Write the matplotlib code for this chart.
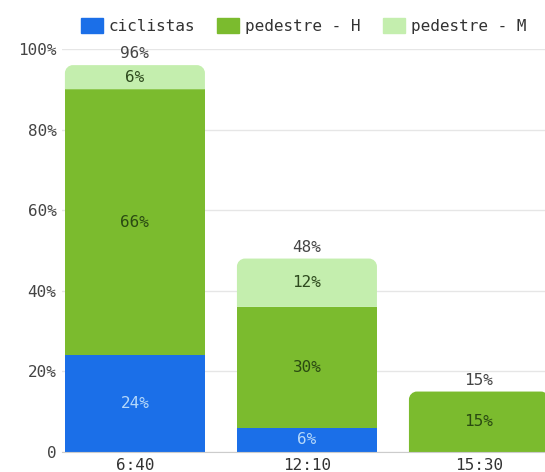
import matplotlib.pyplot as plt
import numpy as np
from matplotlib.patches import Patch, PathPatch
from matplotlib.path import Path

horas = ["6:40", "12:10", "15:30"]
ciclistas = [24, 6, 0]
pedestre_h = [66, 30, 15]
pedestre_m = [6, 12, 0]
totales = [96, 48, 15]

azul = "#1b6fe8"
verde = "#7bbb2e"
verde_claro = "#c4eeae"
fs = 11.5

plt.rcParams['font.family'] = ['DejaVu Sans Mono']

fig = plt.figure(figsize=(5.45, 4.72), dpi=100)
ax = fig.add_axes([62 / 545, 20 / 472, 1 - 62 / 545, 403 / 472])
ax.set_xlim(-0.424, 2.384)
ax.set_ylim(0, 100)

x = np.arange(len(horas))
ancho = 0.814
ciclistas = np.array(ciclistas)
pedestre_h = np.array(pedestre_h)
pedestre_m = np.array(pedestre_m)

b1 = ax.bar(x, ciclistas, ancho, color=azul, zorder=2)
b2 = ax.bar(x, pedestre_h, ancho, bottom=ciclistas, color=verde, zorder=2)
b3 = ax.bar(x, pedestre_m, ancho, bottom=ciclistas + pedestre_h, color=verde_claro, zorder=2)


def tapa_redondeada(x0, y0, w, h, rx, ry):
    # rectangulo con las dos esquinas de arriba redondeadas
    k = 0.5523
    verts = [
        (x0, y0), (x0, y0 + h - ry),
        (x0, y0 + h - ry + k * ry), (x0 + rx - k * rx, y0 + h), (x0 + rx, y0 + h),
        (x0 + w - rx, y0 + h),
        (x0 + w - rx + k * rx, y0 + h), (x0 + w, y0 + h - ry + k * ry), (x0 + w, y0 + h - ry),
        (x0 + w, y0), (x0, y0),
    ]
    codes = [Path.MOVETO, Path.LINETO,
             Path.CURVE4, Path.CURVE4, Path.CURVE4,
             Path.LINETO,
             Path.CURVE4, Path.CURVE4, Path.CURVE4,
             Path.LINETO, Path.CLOSEPOLY]
    return Path(verts, codes)


# radio de 8 px convertido a unidades de datos
px_x = ax.transData.transform((1, 0))[0] - ax.transData.transform((0, 0))[0]
px_y = ax.transData.transform((0, 1))[1] - ax.transData.transform((0, 0))[1]
rx, ry = 8 / px_x, 8 / px_y

for i in range(len(horas)):
    capas = [b for b, v in ((b1[i], ciclistas[i]), (b2[i], pedestre_h[i]), (b3[i], pedestre_m[i])) if v > 0]
    rect = capas[-1]
    rect.set_visible(False)
    ax.add_patch(PathPatch(tapa_redondeada(rect.get_x(), rect.get_y(), rect.get_width(),
                                           rect.get_height(), rx, ry),
                           facecolor=rect.get_facecolor(), edgecolor="none", zorder=2))

# etiquetas de cada segmento
for i in range(len(horas)):
    if ciclistas[i] > 0:
        ax.text(x[i], ciclistas[i] / 2, f"{ciclistas[i]}%", ha="center", va="center",
                color="#b5d8fa", fontsize=fs, zorder=3)
    if pedestre_h[i] > 0:
        ax.text(x[i], ciclistas[i] + pedestre_h[i] / 2, f"{pedestre_h[i]}%",
                ha="center", va="center", color="#2a4a12", fontsize=fs, zorder=3)
    if pedestre_m[i] > 0:
        ax.text(x[i], ciclistas[i] + pedestre_h[i] + pedestre_m[i] / 2, f"{pedestre_m[i]}%",
                ha="center", va="center", color="#2e4a1e", fontsize=fs, zorder=3)
    ax.text(x[i], totales[i] + 1.0, f"{totales[i]}%", ha="center", va="bottom",
            color="#444444", fontsize=fs, zorder=3, clip_on=False)

ax.set_yticks([0, 20, 40, 60, 80, 100])
ax.set_yticklabels(["0", "20%", "40%", "60%", "80%", "100%"], color="#444444", fontsize=fs)
ax.set_xticks(x)
ax.set_xticklabels(horas, color="#333333", fontsize=fs)
ax.tick_params(length=0, pad=4)
ax.grid(axis="y", color="#e6e6e6", linewidth=1, zorder=0)
for s in ["top", "right", "left"]:
    ax.spines[s].set_visible(False)
ax.spines["bottom"].set_color("#cccccc")

leyenda = [Patch(color=azul, label="ciclistas"),
           Patch(color=verde, label="pedestre - H"),
           Patch(color=verde_claro, label="pedestre - M")]
fig.legend(handles=leyenda, loc="center", bbox_to_anchor=(303.5 / 545, 1 - 26 / 472),
           ncol=3, frameon=False, fontsize=fs, handlelength=1.375, handleheight=1.1,
           columnspacing=1.375, handletextpad=0.375, labelcolor="#333333",
           borderpad=0, borderaxespad=0)

fig.savefig("out.png", dpi=100)
